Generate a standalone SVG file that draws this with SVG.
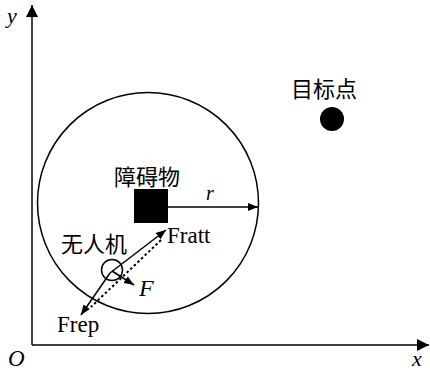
<svg xmlns="http://www.w3.org/2000/svg" width="430" height="374" viewBox="0 0 430 374">
<defs>
<style>
.ln{stroke:#000;stroke-width:1.5;fill:none}
.dot{stroke:#000;stroke-width:2;fill:none;stroke-dasharray:2.5 2.5}
.lat{font-family:"Liberation Serif","Times New Roman",serif;fill:#000}
.it{font-style:italic}
.cjk{font-family:"Noto Sans CJK SC","Noto Sans CJK JP",sans-serif;fill:#000;font-size:22px}
</style>
<marker id="ah" viewBox="0 0 10 8" refX="10" refY="4" markerWidth="10" markerHeight="8" markerUnits="userSpaceOnUse" orient="auto">
<path d="M0,0 L10,4 L0,8 Z" fill="#000"/>
</marker>
<marker id="ax" viewBox="0 0 12 12" refX="12" refY="6" markerWidth="12" markerHeight="12" markerUnits="userSpaceOnUse" orient="auto">
<path d="M0,0 L12,6 L0,12 Z" fill="#000"/>
</marker>
</defs>
<rect width="430" height="374" fill="#fff"/>
<g id="axes">
<line class="ln" x1="32" y1="345" x2="32" y2="5" marker-end="url(#ax)"/>
<line class="ln" x1="32" y1="345" x2="429" y2="345" marker-end="url(#ax)"/>
<text class="lat it" x="7" y="23" font-size="22">y</text>
<text class="lat it" x="8" y="366" font-size="23">O</text>
<text class="lat it" x="412" y="366" font-size="22">x</text>
</g>
<g id="range">
<circle class="ln" cx="148" cy="203" r="110.5"/>
</g>
<g id="obstacle">
<rect x="134" y="189" width="34" height="34" fill="#000"/>
<text class="cjk" x="114" y="185">障碍物</text>
</g>
<g id="target">
<circle cx="332" cy="119" r="12" fill="#000"/>
<text class="cjk" x="291" y="97">目标点</text>
</g>
<g id="uav">
<circle class="ln" cx="112" cy="270" r="10.5"/>
<text class="cjk" x="61" y="252">无人机</text>
</g>
<g id="connectors">
<line class="ln" x1="168" y1="207" x2="258" y2="207" marker-end="url(#ah)"/>
<line class="ln" x1="110" y1="273" x2="166" y2="230" marker-end="url(#ah)"/>
<line class="ln" x1="110" y1="273" x2="81" y2="315" marker-end="url(#ah)"/>
<line class="ln" x1="112" y1="271" x2="134" y2="285" marker-end="url(#ah)"/>
<line class="dot" x1="161" y1="240" x2="91" y2="307"/>
</g>
<g id="labels">
<text class="lat it" x="206" y="200" font-size="20">r</text>
<text class="lat" x="167" y="243" font-size="23">Fratt</text>
<text class="lat" x="57" y="332" font-size="23">Frep</text>
<text class="lat it" x="139" y="296" font-size="24">F</text>
</g>
</svg>
